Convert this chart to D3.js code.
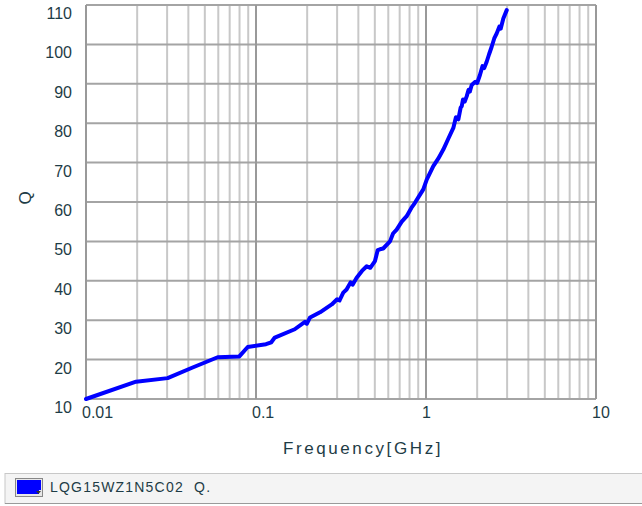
<!DOCTYPE html>
<html><head><meta charset="utf-8">
<script src="https://cdn.jsdelivr.net/npm/d3@7/dist/d3.min.js"></script>
<style>
html,body{margin:0;padding:0;background:#fff;}
svg text{font-family:"Liberation Sans",Arial,sans-serif;fill:#1e3c46;}
</style></head>
<body><svg id="c" width="642" height="506"></svg>
<script>
const freqGHz = [0.01,0.0197,0.0302,0.0424,0.0595,0.0798,0.0894,0.1145,0.123,0.129,0.169,0.194,0.199,0.208,0.238,0.279,0.3,0.31,0.326,0.341,0.36,0.37,0.391,0.42,0.448,0.47,0.501,0.52,0.536,0.56,0.614,0.64,0.672,0.72,0.77,0.82,0.861,0.92,0.964,1.01,1.104,1.18,1.264,1.35,1.448,1.5,1.55,1.6,1.622,1.65,1.69,1.735,1.78,1.81,1.857,1.95,2.0,2.078,2.15,2.2,2.275,2.35,2.434,2.52,2.606,2.7,2.75,2.85,2.985];
const qValues = [10.0,14.4,15.3,18.0,20.6,20.8,23.2,23.9,24.4,25.6,27.7,29.6,29.1,30.7,32.0,34.0,35.3,35.0,37.0,37.8,39.6,39.0,40.8,42.5,43.7,43.3,45.0,47.8,48.0,48.2,50.0,52.0,53.0,55.0,56.4,58.5,59.8,61.8,63.2,65.7,69.1,71.0,73.3,76.0,78.8,81.5,81.0,84.0,84.3,86.0,85.5,86.8,88.5,88.0,89.7,90.5,90.2,92.3,94.5,94.0,95.6,97.5,99.4,101.5,102.8,104.5,104.0,106.6,108.7];
const xTickLabels = ["0.01","0.1","1","10"];
const xTickValues = [0.01,0.1,1,10];
const yTickValues = [10,20,30,40,50,60,70,80,90,100,110];
const seriesName = "LQG15WZ1N5C02  Q.";
const xTitle = "Frequency[GHz]";
const yTitle = "Q";

const svg = d3.select("#c");
const L = 86, R = 596, T = 5, B = 399;
const x = d3.scaleLog().domain([0.01,10]).range([L,R]);
const y = d3.scaleLinear().domain([10,110]).range([B,T]);

// minor vertical grid
const minors = [];
for (let d = 0.01; d < 10; d *= 10) for (let k = 2; k <= 9; k++) minors.push(d*k);
svg.append("g").selectAll("line").data(minors).join("line")
  .attr("x1", d=>x(d)).attr("x2", d=>x(d)).attr("y1", T).attr("y2", B)
  .attr("stroke","#c8c8c8").attr("stroke-width",2);
// horizontal grid
svg.append("g").selectAll("line").data(yTickValues).join("line")
  .attr("x1", L).attr("x2", R).attr("y1", d=>y(d)).attr("y2", d=>y(d))
  .attr("stroke","#a4a4a4").attr("stroke-width",2);
// decade vertical grid
svg.append("g").selectAll("line").data(xTickValues).join("line")
  .attr("x1", d=>x(d)).attr("x2", d=>x(d)).attr("y1", T).attr("y2", B)
  .attr("stroke","#999").attr("stroke-width",2);

// y tick labels
svg.append("g").selectAll("text").data(yTickValues).join("text")
  .attr("x", 72).attr("y", d=>y(d)+14).attr("text-anchor","end")
  .attr("font-size",16).text(d=>d);
// x tick labels
svg.append("g").selectAll("text").data(xTickValues).join("text")
  .attr("x", d=>x(d)-4).attr("y", 418).attr("text-anchor","start")
  .attr("font-size",16).text((d,i)=>xTickLabels[i]);

// titles
svg.append("text").attr("x",363).attr("y",454).attr("text-anchor","middle")
  .attr("font-size",17).attr("letter-spacing",2.6).text(xTitle);
svg.append("text").attr("transform","translate(31,198) rotate(-90)")
  .attr("text-anchor","middle").attr("font-size",17).text(yTitle);

// curve
const pts = freqGHz.map((f,i)=>[f,qValues[i]]);
svg.append("path").datum(pts)
  .attr("d", d3.line().x(d=>x(d[0])).y(d=>y(d[1])))
  .attr("fill","none").attr("stroke","#0000ff").attr("stroke-width",4)
  .attr("stroke-linejoin","round").attr("stroke-linecap","round");

// legend panel
svg.append("rect").attr("x",5).attr("y",473.5).attr("width",640).attr("height",30)
  .attr("fill","#f4f4f4").attr("stroke","#c8c8c8").attr("stroke-width",1);
svg.append("line").attr("x1",5).attr("x2",642).attr("y1",503.5).attr("y2",503.5).attr("stroke","#9a9a9a");
svg.append("rect").attr("x",15.5).attr("y",478.5).attr("width",27).attr("height",18)
  .attr("fill","#e8e8e8").attr("stroke","#888");
svg.append("rect").attr("x",17).attr("y",480).attr("width",22).attr("height",14).attr("fill","#0000ff");
svg.append("rect").attr("x",17).attr("y",480).attr("width",24).attr("height",10).attr("fill","#0000ff");
svg.append("path").attr("d","M36,491 L41,491 L38.5,494 Z").attr("fill","#333");
svg.append("text").attr("x",50).attr("y",492).attr("font-size",14).attr("letter-spacing",1.2)
  .style("white-space","pre").text(seriesName);
</script></body></html>
